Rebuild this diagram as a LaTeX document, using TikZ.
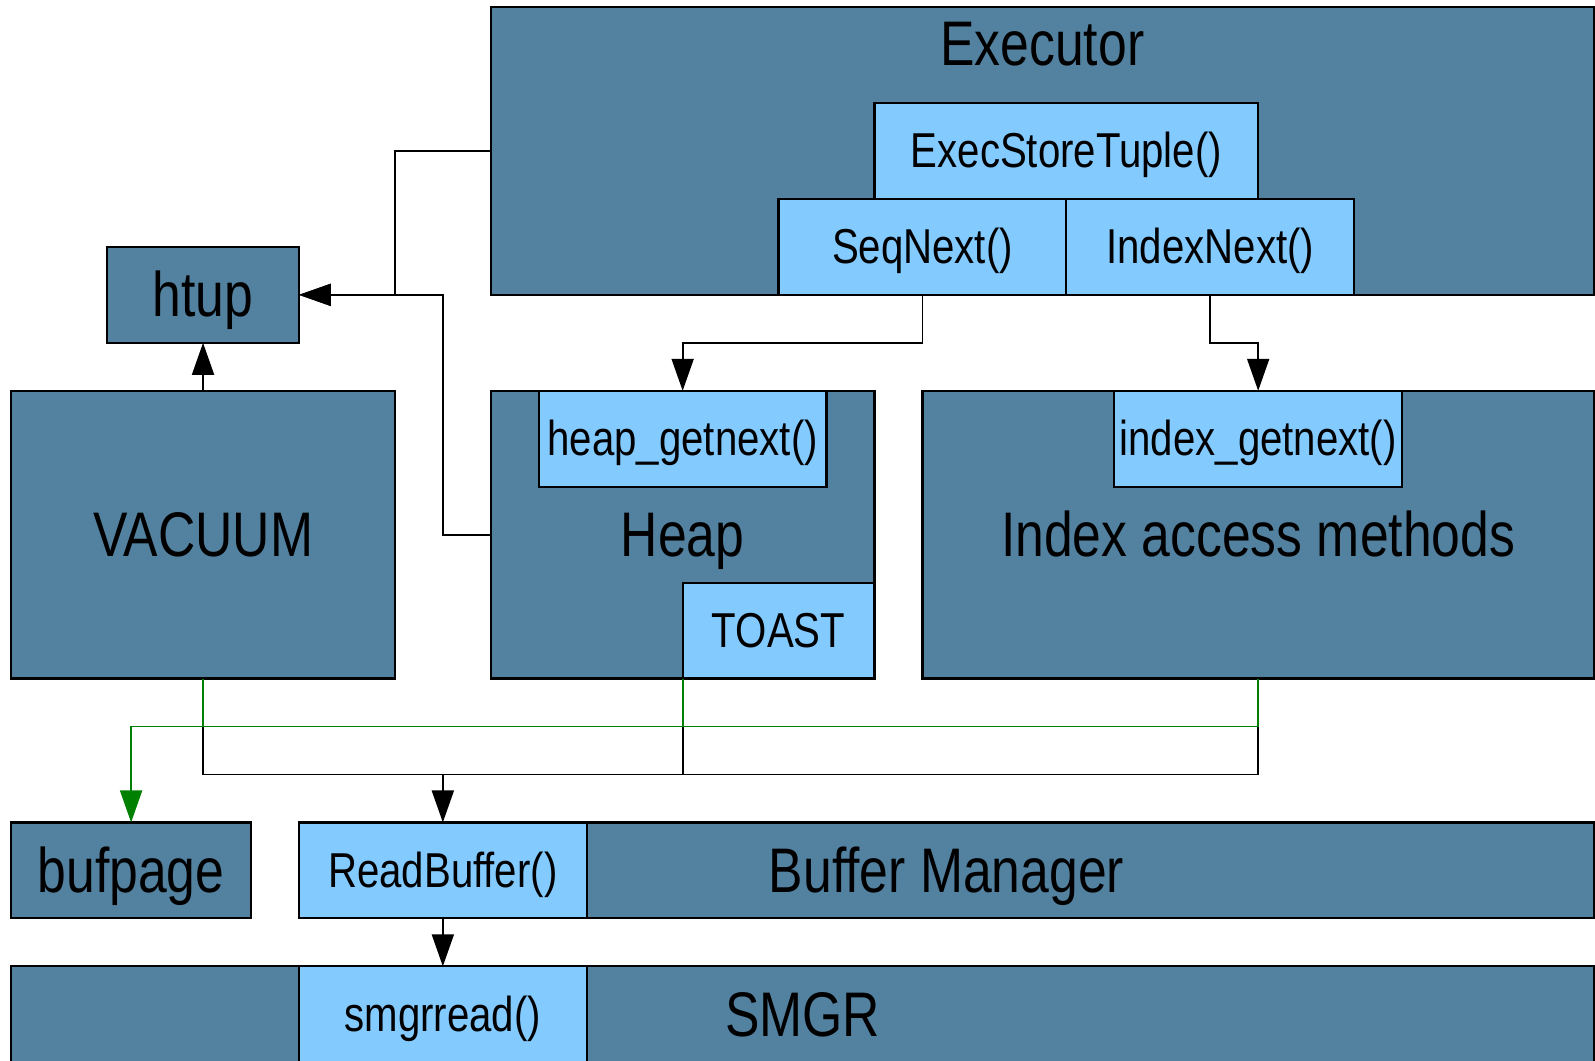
\documentclass[tikz,border=0pt]{standalone}
\usepackage{fontspec}
\setmainfont{Liberation Sans}[FakeStretch=0.82]
\usetikzlibrary{arrows.meta}

\definecolor{layer}{RGB}{83,130,161}
\definecolor{func}{RGB}{131,202,255}
\definecolor{bufgreen}{RGB}{0,128,0}

% one grid step of the layout
\def\gu{47.96pt}

\tikzset{
  box/.style={draw=black, line width=2.2pt, rectangle, inner sep=0pt, outer sep=0pt},
  layerbox/.style={box, fill=layer},
  funcbox/.style={box, fill=func},
  big/.style={font=\fontsize{63}{70}\selectfont, text height=57pt, text depth=13.4pt},
  small/.style={font=\fontsize{49}{55}\selectfont, text height=44.3pt, text depth=10.4pt},
  sz/.style n args={2}{minimum width=#1*\gu, minimum height=#2*\gu},
  conn/.style={line width=1.9pt, -{Triangle[length=32pt,width=22pt]}},
  wire/.style={line width=1.9pt},
  greenwire/.style={line width=1.9pt, draw=bufgreen},
  greenconn/.style={greenwire, -{Triangle[length=32pt,width=22pt]}},
}

\begin{document}
\begin{tikzpicture}[x=47.96pt, y=-47.96pt]
\clip (-0.2335,-0.148) rectangle (33.023,21.954);

% executor layer
\node[layerbox, sz={23}{6}] (exec) at (21.5,3) {};
\node[big] (exectitle) at (21.5,0.77) {Executor};
\node[funcbox, small, sz={8}{2}] (est) at (22,3) {ExecStoreTuple()};
\node[funcbox, small, sz={6}{2}] (seq) at (19,5) {SeqNext()};
\node[funcbox, small, sz={6}{2}] (idx) at (25,5) {IndexNext()};

% tuple header
\node[layerbox, big, sz={4}{2}] (htup) at (4,6) {htup};

% access layer
\node[layerbox, big, sz={8}{6}] (vac) at (4,11) {VACUUM};
\node[layerbox, big, sz={8}{6}] (heap) at (14,11) {Heap};
\node[funcbox, small, sz={6}{2}] (hgn) at (14,9) {heap\_getnext()};
\node[funcbox, small, sz={4}{2}] (toast) at (16,13) {TOAST};
\node[layerbox, big, sz={14}{6}] (iam) at (26,11) {Index access methods};
\node[funcbox, small, sz={6}{2}] (ign) at (26,9) {index\_getnext()};

% buffers
\node[layerbox, big, sz={5}{2}] (bufpage) at (2.5,18) {bufpage};
\node[layerbox, big, sz={27}{2}] (bufmgr) at (19.5,18) {Buffer Manager};
\node[funcbox, small, sz={6}{2}] (rb) at (9,18) {ReadBuffer()};

% storage manager
\node[layerbox, big, sz={33}{2}] (smgr) at (16.5,21) {SMGR};
\node[funcbox, small, sz={6}{2}] (sr) at (9,21) {smgrread()};

% calls into htup
\draw[conn] (exec.west) -- (8,3) |- (htup.east);
\draw[conn] (heap.west) -- (9,11) |- (htup.east);
\draw[conn] (vac.north) -- (htup.south);

% scans
\draw[conn] (seq.south) -- ++(0,1) -| (hgn.north);
\draw[conn] (idx.south) -- ++(0,1) -| (ign.north);

% bus to the buffer manager
\coordinate (bus) at (9,16);
\draw[wire] (vac.south) -- (4,16) -| (iam.south);
\draw[wire] (toast.south west) -- (14,16);
\draw[conn] (bus) -- (rb.north);

% page access
\draw[greenwire] (vac.south) -- (4,15);
\draw[greenwire] (toast.south west) -- (14,15);
\draw[greenconn] (iam.south) -- (26,15) -| (bufpage.north);

% buffer read to storage
\draw[conn] (rb.south) -- (sr.north);
\end{tikzpicture}
\end{document}
